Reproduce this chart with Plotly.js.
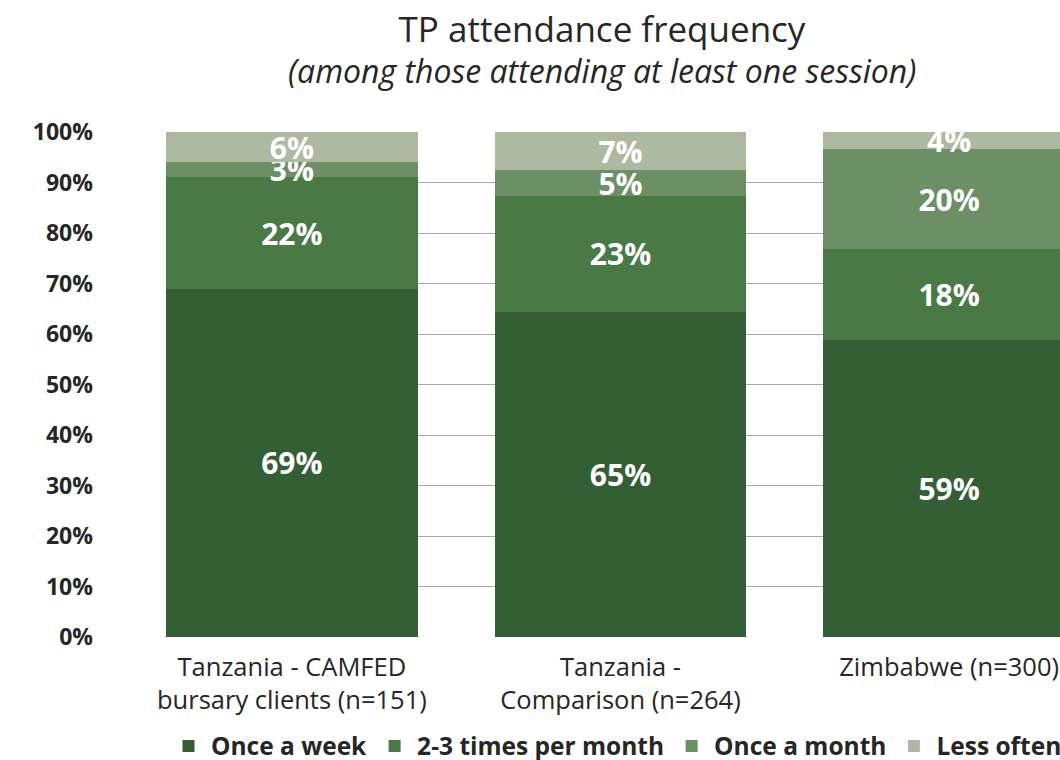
<!DOCTYPE html>
<html>
<head>
<meta charset="utf-8">
<script src="https://cdn.plot.ly/plotly-3.0.1.min.js"></script>
<style>
html,body{margin:0;padding:0;overflow:hidden;background:#fff;}
#chart{width:1204px;height:760px;}
</style>
</head>
<body>
<div id="chart"></div>
<script>
var categories = ["Tanzania - CAMFED<br>bursary clients (n=151)", "Tanzania -<br>Comparison (n=264)", "Zimbabwe (n=300)"];
var seriesNames = ["Once a week", "2-3 times per month", "Once a month", "Less often"];
var onceAWeek = [69, 64.4, 58.8];
var twoThreeTimes = [22, 23, 18];
var onceAMonth = [3, 5, 19.8];
var lessOften = [6, 7.6, 3.4];
var onceAWeekLabels = ["69%", "65%", "59%"];
var twoThreeTimesLabels = ["22%", "23%", "18%"];
var onceAMonthLabels = ["3%", "5%", "20%"];
var lessOftenLabels = ["6%", "7%", "4%"];
var yTickVals = [0,10,20,30,40,50,60,70,80,90,100];
var yTickText = ["0%","10%","20%","30%","40%","50%","60%","70%","80%","90%","100%"];
var titleText = "TP attendance frequency";
var subtitleText = "(among those attending at least one session)";

var colors = ["#345e33", "#497a45", "#6d8f65", "#adb9a1"];
var values = [onceAWeek, twoThreeTimes, onceAMonth, lessOften];
var labels = [onceAWeekLabels, twoThreeTimesLabels, onceAMonthLabels, lessOftenLabels];
var FONT = "'Open Sans', sans-serif";

var traces = seriesNames.map(function(name, i){
  return {
    type: 'bar',
    name: name,
    x: categories,
    y: values[i],
    text: labels[i],
    textposition: 'inside',
    insidetextanchor: 'middle',
    constraintext: 'none',
    textfont: {family: FONT, size: 30, color: '#ffffff', weight: 'bold'},
    marker: {color: colors[i], line: {width: 0}},
    hoverinfo: 'skip'
  };
});

var layout = {
  width: 1204,
  height: 760,
  margin: {l: 166, r: 129, t: 132, b: 123},
  barmode: 'stack',
  bargap: 0.234,
  paper_bgcolor: '#ffffff',
  plot_bgcolor: '#ffffff',
  font: {family: FONT, color: '#262626'},
  title: {
    text: titleText,
    x: 0.5, xref: 'container', xanchor: 'center',
    y: 1 - 30/760, yref: 'container', yanchor: 'middle',
    font: {family: FONT, size: 35, color: '#262626'}
  },
  annotations: [{
    text: '<i>' + subtitleText + '</i>',
    xref: 'paper', yref: 'paper',
    x: (602 - 166) / 909, y: 1 + (132 - 71) / 505,
    xanchor: 'center', yanchor: 'middle',
    showarrow: false,
    font: {family: FONT, size: 32, color: '#262626'}
  }],
  xaxis: {
    type: 'category',
    range: [-0.383, 2.383],
    showgrid: false,
    zeroline: false,
    showline: false,
    ticks: '',
    ticklabelstandoff: 12,
    tickfont: {family: FONT, size: 25.5, color: '#262626'}
  },
  yaxis: {
    range: [0, 100],
    tickvals: yTickVals,
    ticktext: yTickText,
    showgrid: true,
    gridcolor: '#a8a8a8',
    gridwidth: 1,
    zeroline: false,
    showline: false,
    ticks: '',
    ticklabelstandoff: 72,
    tickfont: {family: FONT, size: 23, color: '#262626', weight: 'bold'}
  },
  showlegend: true,
  legend: {
    orientation: 'h',
    traceorder: 'normal',
    x: 0.5 - 4/909, xref: 'paper', xanchor: 'center',
    y: 1 - 746/760, yref: 'container', yanchor: 'middle',
    font: {family: FONT, size: 24.5, color: '#262626', weight: 'bold'},
    itemwidth: 35
  }
};

Plotly.newPlot('chart', traces, layout, {displayModeBar: false, staticPlot: true});
</script>
</body>
</html>
